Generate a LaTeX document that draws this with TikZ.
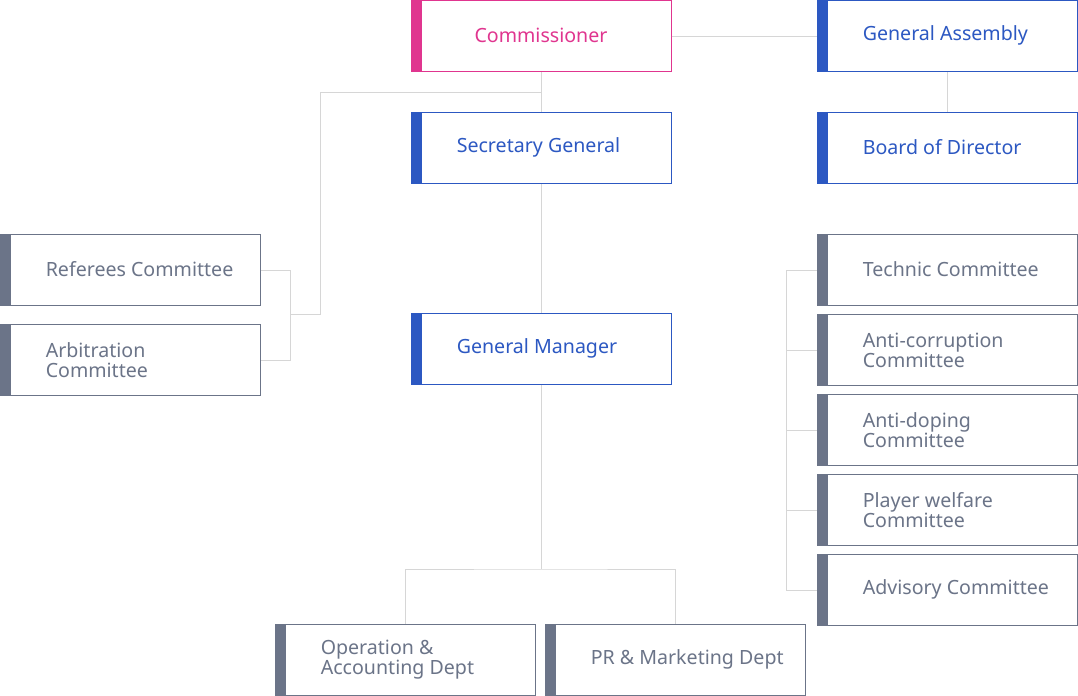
\documentclass[tikz,border=0pt]{standalone}
\usepackage{fontspec}
\setmainfont{Noto Sans}
\usetikzlibrary{calc}
\definecolor{pinkc}{HTML}{E0358F}
\definecolor{bluec}{HTML}{2C58C2}
\definecolor{grayc}{HTML}{6B7488}
\definecolor{linec}{HTML}{D6D6D6}
\begin{document}
\begin{tikzpicture}[x=0.75pt,y=-0.75pt,
    box/.style={draw=#1,line width=0.75pt,fill=white,minimum width=195pt,minimum height=53.25pt,inner sep=0pt,
      path picture={\fill[#1] (path picture bounding box.south west) rectangle ([xshift=8.25pt]path picture bounding box.north west);}},
    txt/.style={text=#1,anchor=west,inner sep=0pt,align=left,font=\fontsize{14.7}{15}\selectfont},
    link/.style={draw=linec,line width=0.75pt}]
    \useasboundingbox (0,0) rectangle (1078,696);
    % top rows
    \node[box=pinkc] (comm) at (541,36) {};
    \node[txt=pinkc,anchor=center] (comm-t) at ([shift={(0,-1)}]comm.center) {Commissioner};
    \node[box=bluec] (ga) at (947,36) {};
    \node[txt=bluec] (ga-t) at ([shift={(46,-1)}]ga.west) {General Assembly};
    \node[box=bluec] (sg) at (541,148) {};
    \node[txt=bluec] (sg-t) at ([shift={(46,-1)}]sg.west) {Secretary General};
    \node[box=bluec] (bod) at (947,148) {};
    \node[txt=bluec] (bod-t) at ([shift={(46,-1)}]bod.west) {Board of Director};
    \node[box=bluec] (gm) at (541,349) {};
    \node[txt=bluec] (gm-t) at ([shift={(46,-1)}]gm.west) {General Manager};
    % left committees
    \node[box=grayc] (ref) at (130,270) {};
    \node[txt=grayc] (ref-t) at ([shift={(46,-1)}]ref.west) {Referees Committee};
    \node[box=grayc] (arb) at (130,360) {};
    \node[txt=grayc] (arb-t) at ([shift={(46,0)}]arb.west) {Arbitration\\Committee};
    % right committees
    \node[box=grayc] (tech) at (947,270) {};
    \node[txt=grayc] (tech-t) at ([shift={(46,-1)}]tech.west) {Technic Committee};
    \node[box=grayc] (antic) at (947,350) {};
    \node[txt=grayc] (antic-t) at ([shift={(46,0)}]antic.west) {Anti-corruption\\Committee};
    \node[box=grayc] (antid) at (947,430) {};
    \node[txt=grayc] (antid-t) at ([shift={(46,0)}]antid.west) {Anti-doping\\Committee};
    \node[box=grayc] (pw) at (947,510) {};
    \node[txt=grayc] (pw-t) at ([shift={(46,0)}]pw.west) {Player welfare\\Committee};
    \node[box=grayc] (adv) at (947,590) {};
    \node[txt=grayc] (adv-t) at ([shift={(46,-1)}]adv.west) {Advisory Committee};
    % departments
    \node[box=grayc] (op) at (405,660) {};
    \node[txt=grayc] (op-t) at ([shift={(46,0)}]op.west) {Operation \&\\Accounting Dept};
    \node[box=grayc] (pr) at (675,660) {};
    \node[txt=grayc] (pr-t) at ([shift={(46,-1)}]pr.west) {PR \& Marketing Dept};
    % links
    \draw[link] (comm.east) -- (ga.west);
    \draw[link] (ga.south) -- (bod.north);
    \draw[link] (comm.south) -- (sg.north);
    \draw[link] (sg.south) -- (gm.north);
    \draw[link] (ref.east) -- ++(30,0) coordinate (lj) |- (arb.east);
    \draw[link] ($(comm.south)!.5!(sg.north)$) -| (320,314) -- (lj |- 0,314);
    \draw[link] (gm.south) -- ++(0,184) coordinate (gj);
    \draw[link] (op.north) |- (gj) -| (pr.north);
    \draw[link] (tech.west) -- ++(-30,0) |- (adv.west);
    \foreach \n in {antic,antid,pw}
        \draw[link] (\n.west) -- ++(-30,0);
\end{tikzpicture}
\end{document}
